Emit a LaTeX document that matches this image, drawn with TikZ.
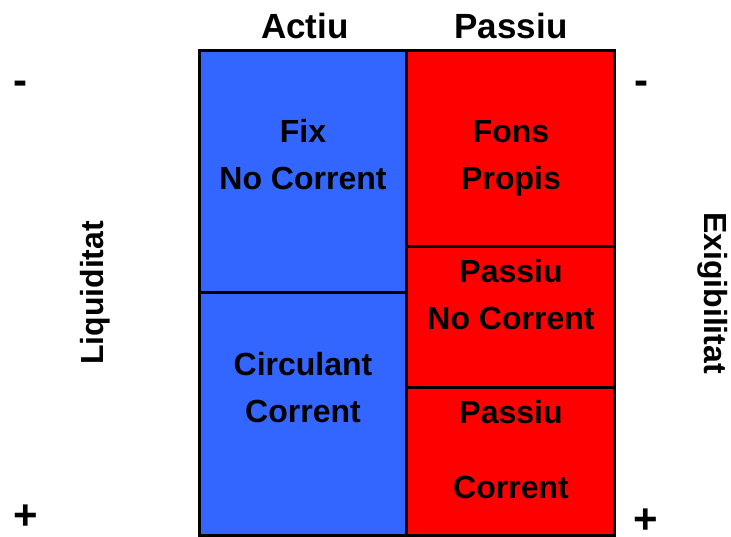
\documentclass[tikz,border=0pt]{standalone}
\usepackage{fontspec}
\setmainfont{Liberation Sans}
\usepackage{tikz}
\definecolor{actiublue}{RGB}{51,102,255}
\definecolor{passiured}{RGB}{255,0,0}

\begin{document}
\begin{tikzpicture}[x=1pt, y=-1pt,
    lbl/.style={font=\bfseries\fontsize{32}{47}\selectfont, align=center, inner sep=0pt, anchor=base},
    head/.style={lbl, font=\bfseries\fontsize{35}{40}\selectfont},
    sign/.style={font=\bfseries\fontsize{42}{42}\selectfont, inner sep=0pt, anchor=base, text depth=0pt},
    part/.style={draw=black, line width=3pt}]
      \useasboundingbox (0,0) rectangle (731,537);
      %%% actiu (blue) and passiu (red) blocks
      \filldraw[part, fill=actiublue] (199,51) rectangle (406,293);
      \filldraw[part, fill=actiublue] (199,293) rectangle (406,535);
      \filldraw[part, fill=passiured] (406,51) rectangle (614,247);
      \filldraw[part, fill=passiured] (406,247) rectangle (614,387);
      \filldraw[part, fill=passiured] (406,387) rectangle (614,535);

      %%% headings
      \node[head] (actiu) at (305,39) {Actiu};
      \node[head] (passiu) at (511,39) {Passiu};

      %%% block labels (anchored at last baseline)
      \node[lbl] (fix) at (303,190) {Fix\\No Corrent};
      \node[lbl] (circ) at (303,422) {Circulant\\Corrent};
      \node[lbl] (fons) at (511,190) {Fons\\Propis};
      \node[lbl] (pnc) at (511,330) {Passiu\\No Corrent};
      \node[lbl] (pc) at (511,498) {Passiu\\[28pt]Corrent};

      %%% side scales
      \node[sign] (lmin) at (20,95) {-};
      \node[sign] (lplus) at (26,529) {+};
      \node[sign] (rmin) at (641,95) {-};
      \node[sign] (rplus) at (646,533) {+};
      \node[lbl, anchor=center, rotate=90] (liq) at (95,293) {Liquiditat};
      \node[lbl, anchor=center, rotate=-90] (exig) at (713,293) {Exigibilitat};
\end{tikzpicture}
\end{document}
